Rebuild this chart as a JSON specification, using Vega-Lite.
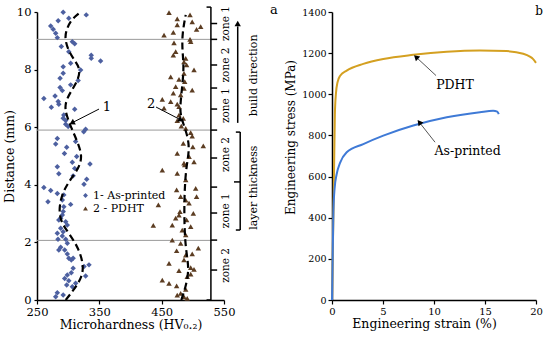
{
  "$schema": "https://vega.github.io/schema/vega-lite/v6.json",
  "background": "white",
  "padding": {"left": 3, "top": 3, "right": 0, "bottom": 0},
  "bounds": "flush",
  "spacing": 108,
  "config": {
    "view": {"stroke": null},
    "axis": {"grid": false, "labelFlush": false, "domainColor": "black", "domainWidth": 1.5, "tickColor": "black", "tickWidth": 1.2, "tickSize": 4, "labelFont": "DejaVu Serif", "titleFont": "DejaVu Serif", "labelColor": "black", "titleColor": "black", "titleFontWeight": "normal"},
    "legend": {"labelFont": "DejaVu Serif"},
    "text": {"font": "DejaVu Serif", "color": "black"}
  },
  "datasets": {
    "hard": [
      {"hv":292,"d":9.99,"series":"1- As-printed"},{"hv":329,"d":9.9,"series":"1- As-printed"},{"hv":284,"d":9.7,"series":"1- As-printed"},{"hv":301,"d":9.78,"series":"1- As-printed"},{"hv":272,"d":9.51,"series":"1- As-printed"},{"hv":276,"d":9.4,"series":"1- As-printed"},{"hv":280,"d":9.26,"series":"1- As-printed"},{"hv":282.6,"d":9.11,"series":"1- As-printed"},{"hv":289,"d":8.8,"series":"1- As-printed"},{"hv":306.7,"d":8.97,"series":"1- As-printed"},{"hv":310.5,"d":8.9,"series":"1- As-printed"},{"hv":301,"d":8.62,"series":"1- As-printed"},{"hv":337,"d":8.5,"series":"1- As-printed"},{"hv":337,"d":8.39,"series":"1- As-printed"},{"hv":352,"d":8.3,"series":"1- As-printed"},{"hv":304,"d":8.22,"series":"1- As-printed"},{"hv":292,"d":8.1,"series":"1- As-printed"},{"hv":320,"d":7.99,"series":"1- As-printed"},{"hv":292,"d":7.87,"series":"1- As-printed"},{"hv":287,"d":7.7,"series":"1- As-printed"},{"hv":316,"d":7.62,"series":"1- As-printed"},{"hv":304,"d":7.47,"series":"1- As-printed"},{"hv":287,"d":7.38,"series":"1- As-printed"},{"hv":290.6,"d":7.27,"series":"1- As-printed"},{"hv":261,"d":7.0,"series":"1- As-printed"},{"hv":279,"d":7.08,"series":"1- As-printed"},{"hv":284,"d":6.89,"series":"1- As-printed"},{"hv":273,"d":6.69,"series":"1- As-printed"},{"hv":285,"d":6.8,"series":"1- As-printed"},{"hv":310.5,"d":6.62,"series":"1- As-printed"},{"hv":293,"d":6.42,"series":"1- As-printed"},{"hv":292,"d":6.31,"series":"1- As-printed"},{"hv":296,"d":6.23,"series":"1- As-printed"},{"hv":296,"d":6.1,"series":"1- As-printed"},{"hv":300,"d":6.02,"series":"1- As-printed"},{"hv":325,"d":5.84,"series":"1- As-printed"},{"hv":328,"d":5.93,"series":"1- As-printed"},{"hv":282.6,"d":5.61,"series":"1- As-printed"},{"hv":280,"d":5.42,"series":"1- As-printed"},{"hv":312,"d":5.5,"series":"1- As-printed"},{"hv":297.6,"d":5.3,"series":"1- As-printed"},{"hv":294,"d":5.09,"series":"1- As-printed"},{"hv":313.7,"d":4.98,"series":"1- As-printed"},{"hv":306.7,"d":4.78,"series":"1- As-printed"},{"hv":335,"d":4.72,"series":"1- As-printed"},{"hv":282.6,"d":4.63,"series":"1- As-printed"},{"hv":285,"d":4.38,"series":"1- As-printed"},{"hv":310.5,"d":4.57,"series":"1- As-printed"},{"hv":308,"d":4.31,"series":"1- As-printed"},{"hv":329.7,"d":4.19,"series":"1- As-printed"},{"hv":325.4,"d":4.02,"series":"1- As-printed"},{"hv":261,"d":3.91,"series":"1- As-printed"},{"hv":272,"d":3.8,"series":"1- As-printed"},{"hv":282.6,"d":3.7,"series":"1- As-printed"},{"hv":293,"d":3.65,"series":"1- As-printed"},{"hv":267.6,"d":3.41,"series":"1- As-printed"},{"hv":290.6,"d":3.47,"series":"1- As-printed"},{"hv":304,"d":3.32,"series":"1- As-printed"},{"hv":293,"d":3.24,"series":"1- As-printed"},{"hv":292,"d":3.07,"series":"1- As-printed"},{"hv":290.6,"d":2.95,"series":"1- As-printed"},{"hv":288,"d":2.84,"series":"1- As-printed"},{"hv":285,"d":2.78,"series":"1- As-printed"},{"hv":296,"d":2.72,"series":"1- As-printed"},{"hv":298.6,"d":2.6,"series":"1- As-printed"},{"hv":288,"d":2.49,"series":"1- As-printed"},{"hv":292,"d":2.37,"series":"1- As-printed"},{"hv":282.6,"d":2.32,"series":"1- As-printed"},{"hv":290.6,"d":2.22,"series":"1- As-printed"},{"hv":283.7,"d":2.11,"series":"1- As-printed"},{"hv":296,"d":2.11,"series":"1- As-printed"},{"hv":298.6,"d":1.97,"series":"1- As-printed"},{"hv":288,"d":1.83,"series":"1- As-printed"},{"hv":285,"d":1.74,"series":"1- As-printed"},{"hv":294.4,"d":1.74,"series":"1- As-printed"},{"hv":298.6,"d":1.6,"series":"1- As-printed"},{"hv":301,"d":1.45,"series":"1- As-printed"},{"hv":305,"d":1.39,"series":"1- As-printed"},{"hv":308,"d":1.45,"series":"1- As-printed"},{"hv":333.4,"d":1.22,"series":"1- As-printed"},{"hv":325.4,"d":1.16,"series":"1- As-printed"},{"hv":308,"d":1.1,"series":"1- As-printed"},{"hv":305,"d":0.95,"series":"1- As-printed"},{"hv":298.6,"d":0.87,"series":"1- As-printed"},{"hv":328,"d":0.83,"series":"1- As-printed"},{"hv":294.4,"d":0.75,"series":"1- As-printed"},{"hv":301,"d":0.67,"series":"1- As-printed"},{"hv":297.6,"d":0.52,"series":"1- As-printed"},{"hv":312,"d":0.58,"series":"1- As-printed"},{"hv":306.7,"d":0.46,"series":"1- As-printed"},{"hv":282.6,"d":0.25,"series":"1- As-printed"},{"hv":292,"d":0.17,"series":"1- As-printed"},{"hv":280,"d":0.11,"series":"1- As-printed"},
      {"hv":461.8,"d":9.98,"series":"2 - PDHT"},{"hv":495.5,"d":9.9,"series":"2 - PDHT"},{"hv":475,"d":9.76,"series":"2 - PDHT"},{"hv":499,"d":9.66,"series":"2 - PDHT"},{"hv":512.6,"d":9.49,"series":"2 - PDHT"},{"hv":506,"d":9.4,"series":"2 - PDHT"},{"hv":475,"d":9.55,"series":"2 - PDHT"},{"hv":468.7,"d":9.29,"series":"2 - PDHT"},{"hv":453.8,"d":9.2,"series":"2 - PDHT"},{"hv":495.5,"d":9.05,"series":"2 - PDHT"},{"hv":496.6,"d":8.97,"series":"2 - PDHT"},{"hv":469.8,"d":8.93,"series":"2 - PDHT"},{"hv":472.5,"d":8.62,"series":"2 - PDHT"},{"hv":468.7,"d":8.5,"series":"2 - PDHT"},{"hv":488.6,"d":8.39,"series":"2 - PDHT"},{"hv":485.8,"d":8.27,"series":"2 - PDHT"},{"hv":490,"d":8.16,"series":"2 - PDHT"},{"hv":501.9,"d":7.99,"series":"2 - PDHT"},{"hv":485.8,"d":7.87,"series":"2 - PDHT"},{"hv":464.5,"d":7.75,"series":"2 - PDHT"},{"hv":477.8,"d":7.66,"series":"2 - PDHT"},{"hv":487,"d":7.58,"series":"2 - PDHT"},{"hv":472.5,"d":7.41,"series":"2 - PDHT"},{"hv":485.8,"d":7.35,"series":"2 - PDHT"},{"hv":499,"d":7.29,"series":"2 - PDHT"},{"hv":468.7,"d":7.18,"series":"2 - PDHT"},{"hv":480.5,"d":7.12,"series":"2 - PDHT"},{"hv":451,"d":6.97,"series":"2 - PDHT"},{"hv":464.5,"d":6.89,"series":"2 - PDHT"},{"hv":475,"d":6.8,"series":"2 - PDHT"},{"hv":453.8,"d":6.66,"series":"2 - PDHT"},{"hv":477.8,"d":6.71,"series":"2 - PDHT"},{"hv":477.8,"d":6.42,"series":"2 - PDHT"},{"hv":484.7,"d":6.31,"series":"2 - PDHT"},{"hv":475,"d":6.23,"series":"2 - PDHT"},{"hv":481.5,"d":6.04,"series":"2 - PDHT"},{"hv":488.6,"d":5.96,"series":"2 - PDHT"},{"hv":496.6,"d":5.81,"series":"2 - PDHT"},{"hv":499,"d":5.69,"series":"2 - PDHT"},{"hv":484.7,"d":5.44,"series":"2 - PDHT"},{"hv":500,"d":5.32,"series":"2 - PDHT"},{"hv":516.8,"d":5.35,"series":"2 - PDHT"},{"hv":475,"d":5.09,"series":"2 - PDHT"},{"hv":501.9,"d":4.8,"series":"2 - PDHT"},{"hv":487,"d":4.69,"series":"2 - PDHT"},{"hv":451,"d":4.51,"series":"2 - PDHT"},{"hv":494,"d":4.98,"series":"2 - PDHT"},{"hv":475,"d":4.4,"series":"2 - PDHT"},{"hv":485.8,"d":4.75,"series":"2 - PDHT"},{"hv":488.6,"d":4.17,"series":"2 - PDHT"},{"hv":504.6,"d":3.88,"series":"2 - PDHT"},{"hv":474,"d":3.82,"series":"2 - PDHT"},{"hv":480.5,"d":3.59,"series":"2 - PDHT"},{"hv":506,"d":3.59,"series":"2 - PDHT"},{"hv":488.6,"d":3.47,"series":"2 - PDHT"},{"hv":444.7,"d":3.3,"series":"2 - PDHT"},{"hv":493.9,"d":3.36,"series":"2 - PDHT"},{"hv":479.4,"d":3.07,"series":"2 - PDHT"},{"hv":500.8,"d":3.01,"series":"2 - PDHT"},{"hv":472.5,"d":2.84,"series":"2 - PDHT"},{"hv":490,"d":2.78,"series":"2 - PDHT"},{"hv":477.8,"d":2.95,"series":"2 - PDHT"},{"hv":436.6,"d":2.59,"series":"2 - PDHT"},{"hv":467,"d":2.6,"series":"2 - PDHT"},{"hv":483,"d":2.43,"series":"2 - PDHT"},{"hv":496.6,"d":2.55,"series":"2 - PDHT"},{"hv":488.6,"d":2.26,"series":"2 - PDHT"},{"hv":467,"d":2.08,"series":"2 - PDHT"},{"hv":480.5,"d":1.97,"series":"2 - PDHT"},{"hv":508.8,"d":1.8,"series":"2 - PDHT"},{"hv":474,"d":1.71,"series":"2 - PDHT"},{"hv":488.6,"d":1.56,"series":"2 - PDHT"},{"hv":499,"d":1.6,"series":"2 - PDHT"},{"hv":485.8,"d":1.39,"series":"2 - PDHT"},{"hv":461.8,"d":1.27,"series":"2 - PDHT"},{"hv":496.6,"d":1.12,"series":"2 - PDHT"},{"hv":501.9,"d":1.06,"series":"2 - PDHT"},{"hv":477.8,"d":1.02,"series":"2 - PDHT"},{"hv":491,"d":0.81,"series":"2 - PDHT"},{"hv":496.6,"d":0.9,"series":"2 - PDHT"},{"hv":451,"d":0.69,"series":"2 - PDHT"},{"hv":461.8,"d":0.58,"series":"2 - PDHT"},{"hv":474,"d":0.49,"series":"2 - PDHT"},{"hv":488.6,"d":0.37,"series":"2 - PDHT"},{"hv":480.5,"d":0.23,"series":"2 - PDHT"},{"hv":485.8,"d":0.11,"series":"2 - PDHT"},{"hv":491,"d":0.06,"series":"2 - PDHT"},{"hv":475,"d":0.17,"series":"2 - PDHT"}
    ],
    "trend": [
      {"hv":296,"d":0,"series":"as"},{"hv":309,"d":0.35,"series":"as"},{"hv":321,"d":0.75,"series":"as"},{"hv":325.4,"d":1.16,"series":"as"},{"hv":317,"d":1.8,"series":"as"},{"hv":301,"d":2.32,"series":"as"},{"hv":288,"d":2.72,"series":"as"},{"hv":285,"d":3.18,"series":"as"},{"hv":290.6,"d":3.7,"series":"as"},{"hv":301,"d":4.11,"series":"as"},{"hv":317,"d":4.57,"series":"as"},{"hv":322.7,"d":4.98,"series":"as"},{"hv":316,"d":5.44,"series":"as"},{"hv":306.7,"d":5.9,"series":"as"},{"hv":300,"d":6.25,"series":"as"},{"hv":295,"d":6.6,"series":"as"},{"hv":296,"d":6.89,"series":"as"},{"hv":304,"d":7.23,"series":"as"},{"hv":314.7,"d":7.58,"series":"as"},{"hv":320,"d":7.99,"series":"as"},{"hv":312,"d":8.27,"series":"as"},{"hv":301,"d":8.62,"series":"as"},{"hv":295,"d":9.03,"series":"as"},{"hv":296,"d":9.32,"series":"as"},{"hv":304,"d":9.72,"series":"as"},{"hv":317,"d":9.95,"series":"as"},
      {"hv":481.5,"d":0,"series":"pd"},{"hv":488.6,"d":0.46,"series":"pd"},{"hv":494,"d":1.04,"series":"pd"},{"hv":490,"d":1.6,"series":"pd"},{"hv":487,"d":2.2,"series":"pd"},{"hv":485.8,"d":3.36,"series":"pd"},{"hv":488.6,"d":4.51,"series":"pd"},{"hv":493,"d":5.0,"series":"pd"},{"hv":494,"d":5.44,"series":"pd"},{"hv":488.6,"d":5.9,"series":"pd"},{"hv":480.5,"d":6.37,"series":"pd"},{"hv":479.4,"d":6.71,"series":"pd"},{"hv":483,"d":7.41,"series":"pd"},{"hv":485.8,"d":8.1,"series":"pd"},{"hv":483,"d":8.68,"series":"pd"},{"hv":483,"d":9.26,"series":"pd"},{"hv":488.6,"d":9.9,"series":"pd"}
    ],
    "grayLines": [{"d":2.07},{"d":5.9},{"d":9.05}],
    "zoneSegs": [
      {"hv":529,"d":0,"hv2":529,"d2":10.17},
      {"hv":522,"d":0,"hv2":529,"d2":0},{"hv":522,"d":10.17,"hv2":529,"d2":10.17},
      {"hv":529,"d":1.04,"hv2":539,"d2":1.04},{"hv":529,"d":2.08,"hv2":539,"d2":2.08},{"hv":529,"d":3.02,"hv2":539,"d2":3.02},{"hv":529,"d":3.92,"hv2":539,"d2":3.92},{"hv":529,"d":4.93,"hv2":539,"d2":4.93},{"hv":529,"d":5.9,"hv2":539,"d2":5.9},{"hv":529,"d":6.63,"hv2":539,"d2":6.63},{"hv":529,"d":7.36,"hv2":539,"d2":7.36},{"hv":529,"d":8.16,"hv2":539,"d2":8.16},{"hv":529,"d":9.05,"hv2":539,"d2":9.05},{"hv":529,"d":9.6,"hv2":539,"d2":9.6},
      {"hv":576,"d":2.43,"hv2":576,"d2":5.83},{"hv":569,"d":2.43,"hv2":576,"d2":2.43},{"hv":569,"d":5.83,"hv2":576,"d2":5.83},{"hv":566,"d":4.1,"hv2":576,"d2":4.1},
      {"hv":572,"d":6.15,"hv2":572,"d2":9.5}
    ],
    "zoneLabels": [{"label":"zone 2","d":1.2},{"label":"zone 1","d":3.1},{"label":"zone 2","d":5.05},{"label":"zone 1","d":6.75},{"label":"zone 2","d":8.16},{"label":"zone 1","d":9.6}],
    "sideLabels": [{"label":"build direction","d":7.8},{"label":"layer thickness","d":3.9}],
    "leftArrows": [{"hv":349.5,"d":6.63,"hv2":306,"d2":6.15},{"hv":441,"d":6.7,"hv2":481,"d2":6.25}],
    "leftHeads": [{"hv":306,"d":6.15,"dir":242.6},{"hv":481,"d":6.25,"dir":117.5},{"hv":572,"d":9.6,"dir":0}],
    "leftTexts": [{"label":"1","hv":362,"d":6.7},{"label":"2","hv":433,"d":6.8},{"label":"a","hv":630,"d":10.07}],
    "tens": [
      {"strain":0,"stress":0,"series":"PDHT"},{"strain":0.15,"stress":450,"series":"PDHT"},{"strain":0.28,"stress":900,"series":"PDHT"},{"strain":0.38,"stress":1000,"series":"PDHT"},{"strain":0.55,"stress":1060,"series":"PDHT"},{"strain":0.8,"stress":1090,"series":"PDHT"},{"strain":1.44,"stress":1115,"series":"PDHT"},{"strain":3.07,"stress":1148,"series":"PDHT"},{"strain":5.03,"stress":1172,"series":"PDHT"},{"strain":7.97,"stress":1192,"series":"PDHT"},{"strain":11.25,"stress":1207,"series":"PDHT"},{"strain":14.5,"stress":1213,"series":"PDHT"},{"strain":17.1,"stress":1210,"series":"PDHT"},{"strain":18.75,"stress":1197,"series":"PDHT"},{"strain":19.4,"stress":1183,"series":"PDHT"},{"strain":19.7,"stress":1172,"series":"PDHT"},{"strain":20,"stress":1153,"series":"PDHT"},
      {"strain":0,"stress":0,"series":"As-printed"},{"strain":0.08,"stress":250,"series":"As-printed"},{"strain":0.14,"stress":430,"series":"As-printed"},{"strain":0.25,"stress":540,"series":"As-printed"},{"strain":0.45,"stress":610,"series":"As-printed"},{"strain":0.8,"stress":668,"series":"As-printed"},{"strain":1.44,"stress":718,"series":"As-printed"},{"strain":3.07,"stress":758,"series":"As-printed"},{"strain":5.03,"stress":799,"series":"As-printed"},{"strain":7.97,"stress":848,"series":"As-printed"},{"strain":11.25,"stress":888,"series":"As-printed"},{"strain":14.5,"stress":913,"series":"As-printed"},{"strain":15.8,"stress":920,"series":"As-printed"},{"strain":16.2,"stress":916,"series":"As-printed"},{"strain":16.35,"stress":903,"series":"As-printed"}
    ],
    "rightArrows": [{"strain":10.2,"stress":1091,"strain2":8.24,"stress2":1181},{"strain":10.1,"stress":767,"strain2":8.56,"stress2":864}],
    "rightHeads": [{"strain":8.24,"stress":1181,"dir":312.6},{"strain":8.56,"stress":864,"dir":321.8}],
    "rightTexts": [{"label":"PDHT","strain":12.06,"stress":1046},{"label":"As-printed","strain":13.3,"stress":726}]
  },
  "hconcat": [
    {
      "width": 187,
      "height": 288,
      "layer": [
        {
          "data": {"name": "grayLines"},
          "mark": {"type": "rule", "color": "#999999", "strokeWidth": 1},
          "encoding": {
            "x": {"datum": 250, "type": "quantitative", "scale": {"domain": [250, 550], "nice": false, "zero": false}, "axis": {"values": [250, 350, 450, 550], "title": "Microhardness (HV₀.₂)", "labelFontSize": 11.5, "titleFontSize": 12.5, "labelPadding": 2, "titlePadding": 1}},
            "x2": {"datum": 529},
            "y": {"field": "d", "type": "quantitative", "scale": {"domain": [0, 10], "nice": false, "zero": false}, "axis": {"values": [0,1,2,3,4,5,6,7,8,9,10], "title": "Distance (mm)", "labelFontSize": 11.5, "titleFontSize": 12.5, "labelPadding": 3, "tickSize": 3, "titlePadding": 0}}
          }
        },
        {
          "data": {"name": "hard"},
          "mark": {"type": "point", "filled": true, "opacity": 1, "size": 30},
          "encoding": {
            "x": {"field": "hv", "type": "quantitative"},
            "y": {"field": "d", "type": "quantitative"},
            "color": {"field": "series", "type": "nominal", "scale": {"domain": ["1- As-printed", "2 - PDHT"], "range": ["#4d60a0", "#5c3d22"]}, "legend": {"orient": "none", "legendX": 43, "legendY": 178, "title": null, "labelFontSize": 11, "labelColor": "black", "symbolSize": 24, "rowPadding": 1, "labelOffset": 2, "padding": 0}},
            "shape": {"field": "series", "type": "nominal", "scale": {"domain": ["1- As-printed", "2 - PDHT"], "range": ["diamond", "triangle-up"]}, "legend": {"orient": "none", "legendX": 43, "legendY": 178, "title": null, "labelFontSize": 11, "labelColor": "black", "symbolSize": 24, "rowPadding": 1, "labelOffset": 2, "padding": 0}}
          }
        },
        {
          "data": {"name": "trend"},
          "mark": {"type": "line", "color": "black", "strokeWidth": 2.2, "strokeDash": [7, 4], "interpolate": "basis"},
          "encoding": {
            "x": {"field": "hv", "type": "quantitative"},
            "y": {"field": "d", "type": "quantitative"},
            "detail": {"field": "series"},
            "order": {"field": "d", "type": "quantitative"}
          }
        },
        {
          "data": {"name": "zoneSegs"},
          "mark": {"type": "rule", "color": "black", "strokeWidth": 1.5},
          "encoding": {
            "x": {"field": "hv", "type": "quantitative"},
            "x2": {"field": "hv2"},
            "y": {"field": "d", "type": "quantitative"},
            "y2": {"field": "d2"}
          }
        },
        {
          "data": {"name": "leftArrows"},
          "mark": {"type": "rule", "color": "black", "strokeWidth": 1},
          "encoding": {
            "x": {"field": "hv", "type": "quantitative"},
            "x2": {"field": "hv2"},
            "y": {"field": "d", "type": "quantitative"},
            "y2": {"field": "d2"}
          }
        },
        {
          "data": {"name": "leftHeads"},
          "mark": {"type": "point", "shape": "triangle-up", "filled": true, "color": "black", "opacity": 1, "size": 40},
          "encoding": {
            "x": {"field": "hv", "type": "quantitative"},
            "y": {"field": "d", "type": "quantitative"},
            "angle": {"field": "dir", "type": "quantitative", "scale": null}
          }
        },
        {
          "data": {"name": "zoneLabels"},
          "mark": {"type": "text", "angle": 270, "fontSize": 10.5, "align": "center", "baseline": "middle"},
          "encoding": {
            "x": {"datum": 554, "type": "quantitative"},
            "y": {"field": "d", "type": "quantitative"},
            "text": {"field": "label"}
          }
        },
        {
          "data": {"name": "sideLabels"},
          "mark": {"type": "text", "angle": 270, "fontSize": 11, "align": "center", "baseline": "middle"},
          "encoding": {
            "x": {"datum": 598, "type": "quantitative"},
            "y": {"field": "d", "type": "quantitative"},
            "text": {"field": "label"}
          }
        },
        {
          "data": {"name": "leftTexts"},
          "mark": {"type": "text", "fontSize": 13, "align": "center", "baseline": "middle"},
          "encoding": {
            "x": {"field": "hv", "type": "quantitative"},
            "y": {"field": "d", "type": "quantitative"},
            "text": {"field": "label"}
          }
        }
      ]
    },
    {
      "width": 204,
      "height": 288,
      "layer": [
        {
          "data": {"name": "tens"},
          "transform": [{"filter": "datum.series === 'PDHT'"}],
          "mark": {"type": "line", "color": "#d4a021", "strokeWidth": 2, "interpolate": "monotone"},
          "encoding": {
            "x": {"field": "strain", "type": "quantitative", "scale": {"domain": [0, 20], "nice": false, "zero": false}, "axis": {"values": [0, 5, 10, 15, 20], "title": "Engineering strain (%)", "labelFontSize": 10, "titleFontSize": 12.5, "labelPadding": 2, "titlePadding": 1, "titleX": 92}},
            "y": {"field": "stress", "type": "quantitative", "scale": {"domain": [0, 1400], "nice": false, "zero": false}, "axis": {"values": [0, 200, 400, 600, 800, 1000, 1200, 1400], "format": "d", "title": "Engineering stress (MPa)", "labelFontSize": 9.5, "titleFontSize": 12, "labelPadding": 2, "titlePadding": 4, "titleY": 125}}
          }
        },
        {
          "data": {"name": "tens"},
          "transform": [{"filter": "datum.series === 'As-printed'"}],
          "mark": {"type": "line", "color": "#3f7ad6", "strokeWidth": 2, "interpolate": "monotone"},
          "encoding": {
            "x": {"field": "strain", "type": "quantitative"},
            "y": {"field": "stress", "type": "quantitative"}
          }
        },
        {
          "data": {"name": "rightArrows"},
          "mark": {"type": "rule", "color": "#555555", "strokeWidth": 1},
          "encoding": {
            "x": {"field": "strain", "type": "quantitative"},
            "x2": {"field": "strain2"},
            "y": {"field": "stress", "type": "quantitative"},
            "y2": {"field": "stress2"}
          }
        },
        {
          "data": {"name": "rightHeads"},
          "mark": {"type": "point", "shape": "triangle-up", "filled": true, "color": "black", "opacity": 1, "size": 40},
          "encoding": {
            "x": {"field": "strain", "type": "quantitative"},
            "y": {"field": "stress", "type": "quantitative"},
            "angle": {"field": "dir", "type": "quantitative", "scale": null}
          }
        },
        {
          "data": {"name": "rightTexts"},
          "mark": {"type": "text", "fontSize": 12.5, "align": "center", "baseline": "middle"},
          "encoding": {
            "x": {"field": "strain", "type": "quantitative"},
            "y": {"field": "stress", "type": "quantitative"},
            "text": {"field": "label"}
          }
        },
        {
          "data": {"values": [{"label": "b", "strain": 20.3, "stress": 1403}]},
          "mark": {"type": "text", "fontSize": 12, "align": "center", "baseline": "middle"},
          "encoding": {
            "x": {"field": "strain", "type": "quantitative"},
            "y": {"field": "stress", "type": "quantitative"},
            "text": {"field": "label"}
          }
        }
      ]
    }
  ]
}
